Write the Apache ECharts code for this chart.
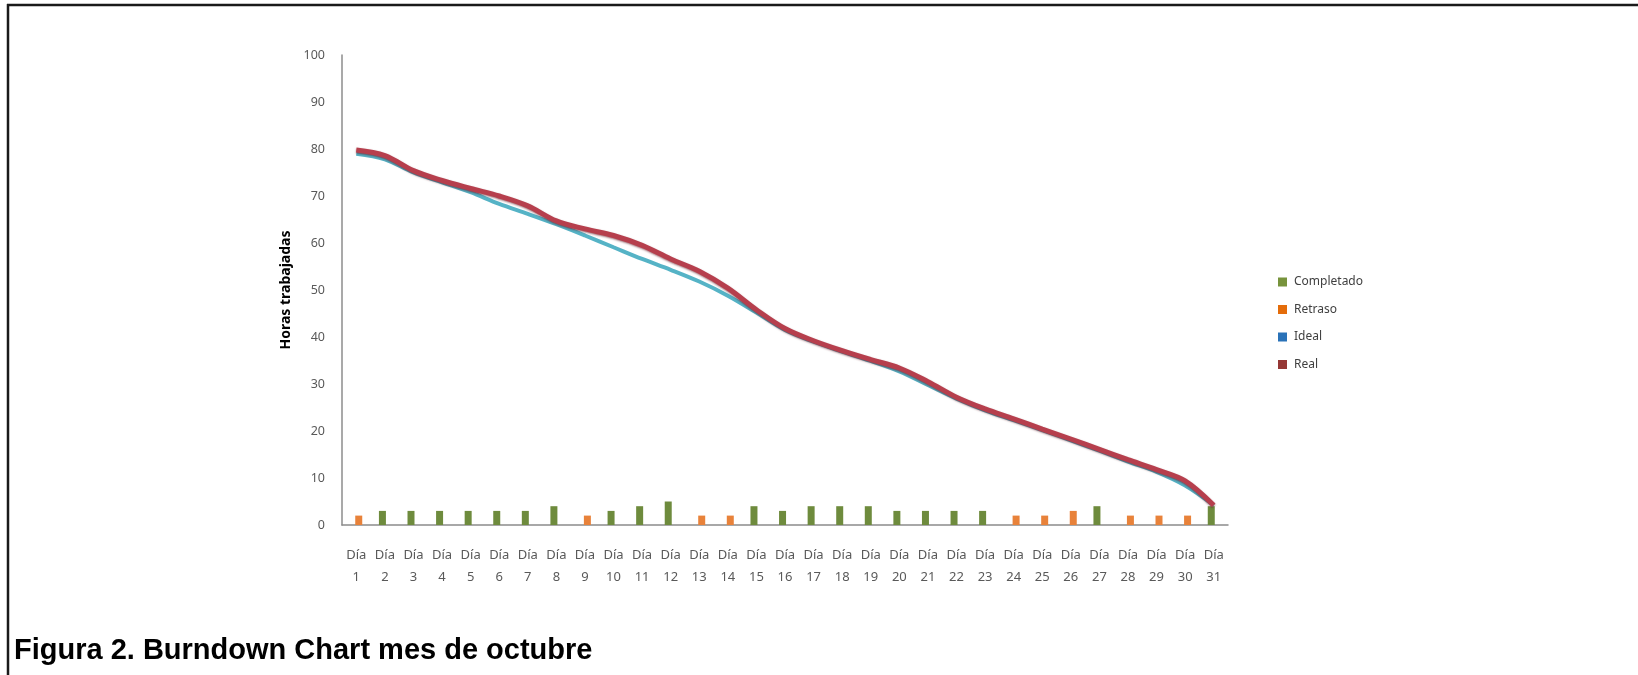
<!DOCTYPE html>
<html>
<head>
<meta charset="utf-8">
<script src="https://cdn.jsdelivr.net/npm/echarts@6/dist/echarts.min.js"></script>
<style>
html,body{margin:0;padding:0;background:#fff;}
#chart{width:1638px;height:675px;}
</style>
</head>
<body>
<div id="chart"></div>
<script>
var categories = ['Día 1','Día 2','Día 3','Día 4','Día 5','Día 6','Día 7','Día 8','Día 9','Día 10','Día 11','Día 12','Día 13','Día 14','Día 15','Día 16','Día 17','Día 18','Día 19','Día 20','Día 21','Día 22','Día 23','Día 24','Día 25','Día 26','Día 27','Día 28','Día 29','Día 30','Día 31'];
var completado = [null,3,3,3,3,3,3,4,null,3,4,5,null,null,4,3,4,4,4,3,3,3,3,null,null,null,4,null,null,null,4];
var retraso    = [2,null,null,null,null,null,null,null,2,null,null,null,2,2,null,null,null,null,null,null,null,null,null,2,2,3,null,2,2,2,null];
var ideal = [79,77.8,75,72.9,70.8,68.3,66.2,64,61.6,59.1,56.6,54.3,51.8,48.8,45.2,41.5,39,36.9,34.9,32.7,29.8,26.9,24.4,22.3,20.2,18,15.8,13.5,11.3,8.4,4.2];
var real  = [79.8,78.6,75.4,73.3,71.6,70,67.9,64.7,63,61.6,59.5,56.6,54,50.4,45.8,41.8,39.2,37.1,35.2,33.4,30.5,27.2,24.7,22.6,20.4,18.3,16.1,13.9,11.8,9.4,4.2];
var yTicks = {min:0, max:100, interval:10};
var seriesNames = ['Completado','Retraso','Ideal','Real'];

var chart = echarts.init(document.getElementById('chart'));
chart.setOption({
  animation:false,
  backgroundColor:'#ffffff',
  title:{
    text:'Figura 2. Burndown Chart mes de octubre',
    left:9, top:631,
    textStyle:{fontFamily:'Liberation Sans',fontWeight:'bold',fontSize:29,color:'#000'}
  },
  graphic:[
    {type:'line',shape:{x1:7,y1:5,x2:1638,y2:5},style:{stroke:'#1a1a1a',lineWidth:2.5}},
    {type:'line',shape:{x1:8,y1:4,x2:8,y2:675},style:{stroke:'#1a1a1a',lineWidth:2.5}}
  ],
  legend:{
    orient:'vertical',
    left:1273, top:271,
    itemWidth:9, itemHeight:9, itemGap:15.5,
    icon:'rect',
    textStyle:{fontFamily:'Noto Sans',fontSize:12,color:'#404040',padding:[0,0,0,2]},
    data:[
      {name:seriesNames[0],itemStyle:{color:'#77933C'}},
      {name:seriesNames[1],itemStyle:{color:'#E46C0A'}},
      {name:seriesNames[2],itemStyle:{color:'#2A72B8'}},
      {name:seriesNames[3],itemStyle:{color:'#953735'}}
    ]
  },
  grid:{left:342,right:410,top:55,bottom:150,containLabel:false},
  xAxis:{
    type:'category',
    data:categories,
    boundaryGap:true,
    axisLine:{show:true,lineStyle:{color:'#8c8c8c',width:1.5}},
    axisTick:{show:false},
    axisLabel:{
      interval:0, margin:19,
      fontFamily:'Noto Sans', fontSize:13, color:'#595959', lineHeight:22,
      formatter:function(v){return v.replace(' ','\n');}
    },
    splitLine:{show:false}
  },
  yAxis:{
    type:'value',
    min:yTicks.min, max:yTicks.max, interval:yTicks.interval,
    name:'Horas trabajadas',
    nameLocation:'middle',
    nameGap:47,
    nameTextStyle:{fontFamily:'Noto Sans',fontWeight:'bold',fontSize:14,color:'#000'},
    axisLine:{show:true,lineStyle:{color:'#8c8c8c',width:1.5}},
    axisTick:{show:false},
    axisLabel:{fontFamily:'Noto Sans',fontSize:12.5,color:'#595959',margin:17},
    splitLine:{show:false}
  },
  series:[
    {name:seriesNames[0],type:'bar',data:completado,barWidth:7,barGap:'-30%',itemStyle:{color:'#6E8B3D'}},
    {name:seriesNames[1],type:'bar',data:retraso,barWidth:7,barGap:'-30%',itemStyle:{color:'#E8823A'}},
    {name:seriesNames[2],type:'line',data:ideal,smooth:0.35,symbol:'none',
      lineStyle:{color:'#55B3C6',width:4}},
    {name:seriesNames[3],type:'line',data:real,smooth:0.35,symbol:'none',
      lineStyle:{color:'#B63F4D',width:5,shadowColor:'rgba(90,10,20,0.55)',shadowBlur:2,shadowOffsetY:1}}
  ]
});
</script>
</body>
</html>
